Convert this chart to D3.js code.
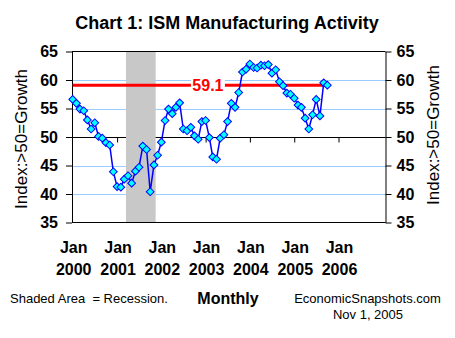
<!DOCTYPE html>
<html>
<head>
<meta charset="utf-8">
<script src="https://cdn.jsdelivr.net/npm/d3@7"></script>
<style>
  body { margin: 0; background: #fff; }
  svg { display: block; font-family: "Liberation Sans", Arial, sans-serif; }
</style>
</head>
<body>
<div id="chart"></div>
<script>
// ISM index, monthly, Jan 2000 .. Oct 2005
const ism2000 = [56.6, 55.9, 54.9, 54.6, 53.0, 51.4, 52.5, 50.1, 49.8, 49.0, 48.6, 43.9];
const ism2001 = [41.3, 41.2, 42.6, 43.2, 41.9, 44.0, 44.7, 48.4, 47.8, 40.4, 45.1, 46.8];
const ism2002 = [49.1, 52.9, 54.9, 54.1, 55.2, 56.0, 51.4, 51.1, 51.7, 50.2, 49.6, 52.7];
const ism2003 = [52.9, 49.9, 46.5, 46.1, 49.8, 50.4, 52.7, 55.9, 55.2, 57.8, 61.4, 61.9];
const ism2004 = [62.8, 62.2, 62.1, 62.6, 62.5, 62.7, 61.2, 61.8, 59.7, 59.0, 57.7, 57.5];
const ism2005 = [56.8, 55.6, 55.2, 53.3, 51.4, 53.9, 56.6, 53.7, 59.5, 59.1];

const tickYears = ["2000", "2001", "2002", "2003", "2004", "2005", "2006"];
const yTicks = [35, 40, 45, 50, 55, 60, 65];
const recession = [new Date(2001, 2, 15), new Date(2001, 10, 15)];
const latest = 59.1;

const values = [].concat(ism2000, ism2001, ism2002, ism2003, ism2004, ism2005);
const data = values.map((v, i) => ({ date: new Date(2000, i, 1), value: v }));

const width = 455, height = 338;
const plot = { left: 72, right: 385.5, top: 51.5, bottom: 222.5 };

const svg = d3.select("#chart").append("svg")
  .attr("width", width).attr("height", height);

const x = d3.scaleTime()
  .domain([new Date(2000, 0, 1), new Date(2006, 0, 1)])
  .range([72.7, 338.5]);
const y = d3.scaleLinear().domain([35, 65]).range([plot.bottom, plot.top]);

// gridlines
svg.append("g").selectAll("line")
  .data(yTicks.filter(d => d != 35 && d != 50 && d != 65))
  .enter().append("line")
  .attr("x1", plot.left).attr("x2", plot.right)
  .attr("y1", d => Math.round(y(d)) + 0.5).attr("y2", d => Math.round(y(d)) + 0.5)
  .attr("stroke", "#99ccff").attr("stroke-width", 1);

// x axis along the 50 line
const xAxis = d3.axisBottom(x)
  .tickValues(tickYears.slice(1).map(t => new Date(+t, 0, 1)))
  .tickSize(5).tickSizeOuter(0).tickFormat("");
const xg = svg.append("g")
  .attr("transform", "translate(0," + (Math.round(y(50)) + 0.5) + ")")
  .call(xAxis);
xg.select(".domain").remove();
xg.selectAll("line").attr("stroke", "#000");
xg.append("line").attr("x1", plot.left).attr("x2", plot.right)
  .attr("stroke", "#000");

// recession band
svg.append("rect")
  .attr("x", x(recession[0])).attr("y", plot.top)
  .attr("width", x(recession[1]) - x(recession[0]))
  .attr("height", plot.bottom - plot.top)
  .attr("fill", "#c8c8c8");

// top / bottom frame
svg.append("line").attr("x1", plot.left).attr("x2", plot.right)
  .attr("y1", plot.top).attr("y2", plot.top).attr("stroke", "#000");
svg.append("line").attr("x1", plot.left).attr("x2", plot.right)
  .attr("y1", plot.bottom).attr("y2", plot.bottom).attr("stroke", "#000");

// y axes
const yl = svg.append("g").attr("transform", "translate(" + plot.left + ",0)")
  .call(d3.axisLeft(y).tickValues(yTicks).tickSize(6).tickSizeOuter(0).tickPadding(8));
const yr = svg.append("g").attr("transform", "translate(" + plot.right + ",0)")
  .call(d3.axisRight(y).tickValues(yTicks).tickSize(6).tickSizeOuter(0).tickPadding(5));
[yl, yr].forEach(g => {
  g.selectAll("text").style("font-size", "16px").style("font-weight", "bold")
    .style("font-family", "Liberation Sans, Arial, sans-serif").attr("fill", "#000");
  g.selectAll("line, path").attr("stroke", "#000");
});

// latest value reference line
const last = data[data.length - 2];
svg.append("line")
  .attr("x1", x(data[0].date)).attr("x2", x(last.date))
  .attr("y1", y(latest)).attr("y2", y(latest))
  .attr("stroke", "#ff0000").attr("stroke-width", 3);
const lblX = x(new Date(2003, 0, 20));
svg.append("rect").attr("x", lblX - 17).attr("y", y(latest) - 9)
  .attr("width", 34).attr("height", 18).attr("fill", "#fff");
svg.append("text").attr("x", lblX).attr("y", y(latest) + 6)
  .attr("text-anchor", "middle").attr("fill", "#ff0000")
  .style("font-size", "16px").style("font-weight", "bold")
  .text(latest.toFixed(1));

// series
svg.append("path").datum(data)
  .attr("fill", "none").attr("stroke", "#0000ff").attr("stroke-width", 1.5)
  .attr("d", d3.line().x(d => x(d.date)).y(d => y(d.value)));
svg.append("g").selectAll("path").data(data).enter().append("path")
  .attr("d", d3.symbol(d3.symbolSquare, 30))
  .attr("transform", d => "translate(" + x(d.date) + "," + y(d.value) + ") rotate(45)")
  .attr("fill", "#00ffff").attr("stroke", "#0000ff").attr("stroke-width", 1);

// x tick labels
const xl = svg.append("g").selectAll("g").data(tickYears).enter().append("g")
  .attr("transform", d => "translate(" + (x(new Date(+d, 0, 1)) + 1) + ",0)");
xl.append("text").attr("y", 253).attr("text-anchor", "middle")
  .style("font-size", "16px").style("font-weight", "bold").text("Jan");
xl.append("text").attr("y", 275).attr("text-anchor", "middle")
  .style("font-size", "16px").style("font-weight", "bold").text(d => d);

// titles
svg.append("text").attr("x", 227).attr("y", 29).attr("text-anchor", "middle")
  .style("font-size", "18px").style("font-weight", "bold")
  .text("Chart 1: ISM Manufacturing Activity");
svg.append("text").attr("transform", "translate(27,139) rotate(-90)")
  .attr("text-anchor", "middle").style("font-size", "17px")
  .text("Index:>50=Growth");
svg.append("text").attr("transform", "translate(439,135) rotate(-90)")
  .attr("text-anchor", "middle").style("font-size", "17px")
  .text("Index:>50=Growth");

// footer
svg.append("text").attr("x", 10).attr("y", 303).style("font-size", "13px")
  .text("Shaded Area  = Recession.").attr("xml:space", "preserve").style("white-space", "pre");
svg.append("text").attr("x", 228).attr("y", 304).attr("text-anchor", "middle")
  .style("font-size", "16px").style("font-weight", "bold").text("Monthly");
svg.append("text").attr("x", 367.5).attr("y", 303).attr("text-anchor", "middle")
  .style("font-size", "13px").text("EconomicSnapshots.com");
svg.append("text").attr("x", 368).attr("y", 319).attr("text-anchor", "middle")
  .style("font-size", "13px").text("Nov 1, 2005");
</script>
</body>
</html>
